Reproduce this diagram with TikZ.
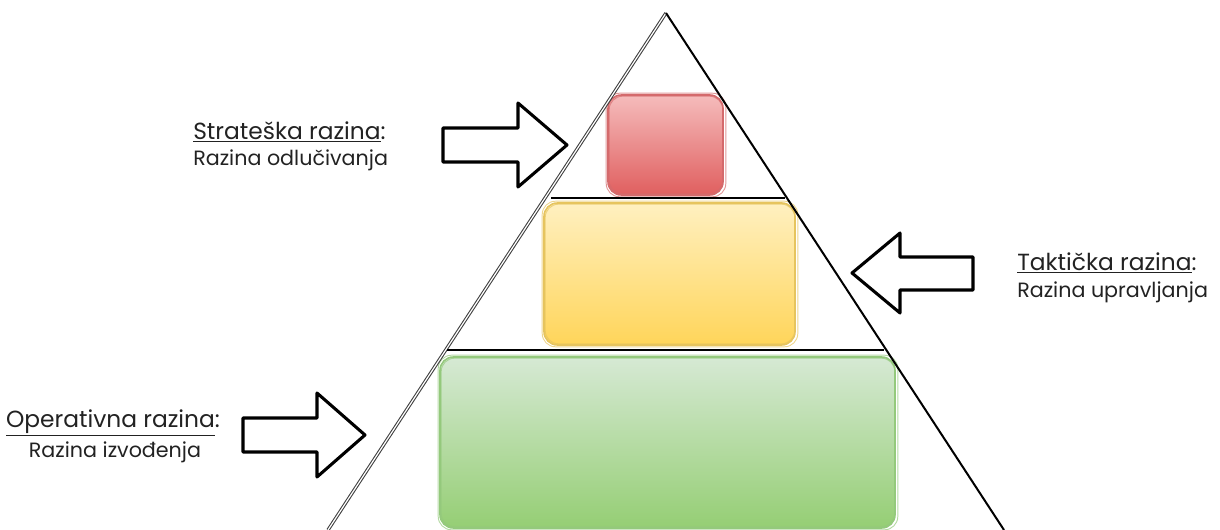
\documentclass[tikz,border=0pt]{standalone}
\usepackage{fontspec}
\setmainfont{Poppins}
\definecolor{redtop}{HTML}{F5BCBC}
\definecolor{redbot}{HTML}{E05F5F}
\definecolor{redline}{HTML}{D46A6C}
\definecolor{yeltop}{HTML}{FFF0C0}
\definecolor{yelbot}{HTML}{FFD55A}
\definecolor{yelline}{HTML}{E6C45E}
\definecolor{grntop}{HTML}{D6E9D4}
\definecolor{grnbot}{HTML}{95CE74}
\definecolor{grnline}{HTML}{94C97C}
\definecolor{txt}{HTML}{222222}
\begin{document}
\begin{tikzpicture}[x=0.75pt,y=-0.75pt,
  edge/.style={line width=1.5pt, black},
  leftedge/.style={double=white, double distance=0.9pt, line width=0.8pt, draw=black!75},
  bigarrow/.style={draw=black, fill=white, line width=2.3pt, line join=round},
  lvl/.style={rounded corners=10pt, line width=1.2pt, inner sep=0pt},
  sketch/.style={rounded corners=10pt, line width=0.7pt, opacity=0.7},
  lbl/.style={font=\fontsize{15.5}{18}\selectfont, text=txt, inner sep=0pt},
  ttl/.style={font=\fontsize{17.5}{20}\selectfont, text=txt, inner sep=0pt}]
\useasboundingbox (0,0) rectangle (1220,530);

% level boxes
\node[lvl, draw=redline, top color=redtop, bottom color=redbot,
      minimum width=86.25pt, minimum height=75pt] (red) at (665.5,145) {};
\draw[sketch, draw=redline] ([shift={(2,2)}]red.north west) rectangle ([shift={(-1,-2)}]red.south east);
\draw[sketch, draw=redline] ([shift={(-1,-1)}]red.north west) rectangle ([shift={(2,1)}]red.south east);

\node[lvl, draw=yelline, top color=yeltop, bottom color=yelbot,
      minimum width=188.25pt, minimum height=106.5pt] (yellow) at (669.5,274) {};
\draw[sketch, draw=yelline] ([shift={(2,2)}]yellow.north west) rectangle ([shift={(-1,-2)}]yellow.south east);
\draw[sketch, draw=yelline] ([shift={(-1,-1)}]yellow.north west) rectangle ([shift={(2,1)}]yellow.south east);

\node[lvl, draw=grnline, top color=grntop, bottom color=grnbot,
      minimum width=341.25pt, minimum height=128.25pt] (green) at (667.5,442.5) {};
\draw[sketch, draw=grnline] ([shift={(2,2)}]green.north west) rectangle ([shift={(-1,-2)}]green.south east);
\draw[sketch, draw=grnline] ([shift={(-1,-1)}]green.north west) rectangle ([shift={(2,1)}]green.south east);

% pyramid
\coordinate (apex) at (666,13);
\coordinate (bl) at (328,530);
\coordinate (br) at (1004,530);
\draw[leftedge] (apex) -- (bl);
\draw[edge] (apex) -- (br);
\coordinate (l1a) at (551,198);
\coordinate (l1b) at (785,198);
\coordinate (l2a) at (447,350);
\coordinate (l2b) at (884,350);
\draw[edge] (l1a) -- (l1b);
\draw[edge] (l2a) -- (l2b);

% arrows
\draw[bigarrow] (443,128) -- (518,128) -- (518,103) -- (567,145) -- (518,187) -- (518,162) -- (443,162) -- cycle;
\draw[bigarrow] (243,418) -- (317,418) -- (317,393) -- (365,435) -- (317,477) -- (317,452) -- (243,452) -- cycle;
\draw[bigarrow] (973,257) -- (900,257) -- (900,233) -- (852,273) -- (900,313) -- (900,290) -- (973,290) -- cycle;

% labels
\node[ttl, anchor=west] (strat) at (193,132) {\underline{Strateška razina}:};
\node[lbl, anchor=west] (stratsub) at (193,160) {Razina odlučivanja};
\node[ttl, anchor=west] (takt) at (1017,263) {\underline{Taktička razina}:};
\node[lbl, anchor=west] (taktsub) at (1017,292) {Razina upravljanja};
\node[ttl] (oper) at (113,423) {\underline{Operativna razina}:};
\node[lbl] (opersub) at (115,452) {Razina izvođenja};
\end{tikzpicture}
\end{document}
